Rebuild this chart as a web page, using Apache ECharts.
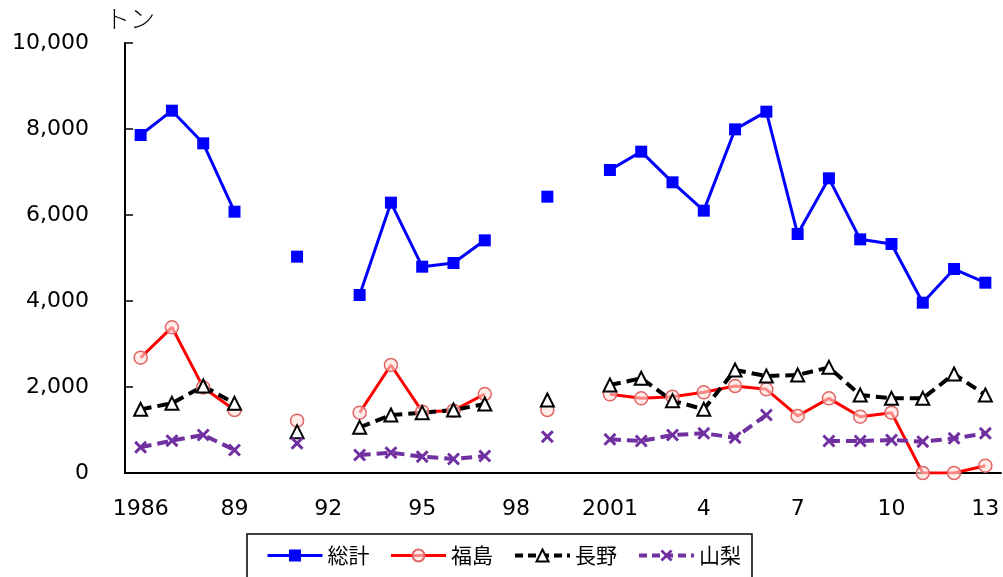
<!DOCTYPE html>
<html><head><meta charset="utf-8">
<script src="https://cdn.jsdelivr.net/npm/echarts@6/dist/echarts.min.js"></script>
<style>html,body{margin:0;padding:0;background:#fff}#c{width:1003px;height:577px}</style>
</head><body><div id="c"></div>
<script>
const years = [];
for (let y = 1986; y <= 2013; y++) years.push(String(y));
const tickLabels = {"1986":"1986","1989":"89","1992":"92","1995":"95","1998":"98","2001":"2001","2004":"4","2007":"7","2010":"10","2013":"13"};
const yTicks = [0, 2000, 4000, 6000, 8000, 10000];
// 1986..2013
const total = [7860,8426,7667,6077,null,5031,null,4140,6287,4798,4884,5411,null,6426,null,7047,7473,6760,6101,7992,8403,5558,6853,5434,5326,3961,4744,4426];
const fukushima = [2682,3388,1990,1465,null,1217,null,1403,2512,1426,1450,1837,null,1465,null,1830,1736,1775,1876,2023,1946,1326,1736,1310,1403,0,0,170];
const nagano = [1480,1620,2023,1620,null,961,null,1062,1349,1403,1465,1605,null,1698,null,2047,2202,1682,1481,2395,2256,2279,2457,1814,1736,1736,2302,1814];
const yamanashi = [597,752,884,535,null,690,null,419,473,380,326,395,null,845,null,783,744,884,922,822,1349,null,744,744,767,729,806,922];
const names = ['総計','福島','長野','山梨'];

const chart = echarts.init(document.getElementById('c'));
const xMark = 'path://M0,1.6L1.6,0L5,3.4L8.4,0L10,1.6L6.6,5L10,8.4L8.4,10L5,6.6L1.6,10L0,8.4L3.4,5Z';
const dash = [11, 6];
chart.setOption({
  animation: false,
  textStyle: {fontFamily: 'DejaVu Sans, "Noto Sans CJK JP"'},
  grid: {left: 125, right: 2, top: 43, bottom: 104},
  legend: {
    left: 247, top: 534,
    padding: [11, 11, 40, 19],
    borderColor: '#000', borderWidth: 1.5,
    itemWidth: 55, itemHeight: 15, itemGap: 20,
    textStyle: {fontFamily: '"Noto Sans CJK JP"', fontSize: 21, color: '#000'},
    data: [
      {name: names[0], lineStyle: {width: 3}},
      {name: names[1], lineStyle: {width: 3}},
      {name: names[2], lineStyle: {width: 4, type: [8, 5]}},
      {name: names[3], lineStyle: {width: 4, type: [8, 5]}}
    ]
  },
  graphic: [{type: 'text', left: 105, top: 6, style: {text: 'トン', font: '300 25px "Noto Sans CJK JP"', fill: '#000'}}],
  xAxis: {
    type: 'category', data: years, boundaryGap: true,
    axisLine: {lineStyle: {color: '#000', width: 2}},
    axisTick: {inside: true, length: 6, interval: 0, lineStyle: {color: '#000', width: 1.5}},
    axisLabel: {interval: 0, margin: 25, fontSize: 22, color: '#000',
      formatter: v => tickLabels[v] || ''}
  },
  yAxis: {
    type: 'value', min: yTicks[0], max: yTicks[yTicks.length-1], interval: 2000,
    axisLine: {show: true, lineStyle: {color: '#000', width: 2}},
    axisTick: {show: true, inside: true, length: 8, lineStyle: {color: '#000', width: 1.5}},
    splitLine: {show: false},
    axisLabel: {margin: 36, fontSize: 22, color: '#000',
      formatter: v => v.toLocaleString('en-US')}
  },
  series: [
    {name: names[0], type: 'line', data: total, connectNulls: false,
     symbol: 'rect', symbolSize: 12,
     lineStyle: {color: '#0000FF', width: 3},
     itemStyle: {color: '#0000FF'}},
    {name: names[1], type: 'line', data: fukushima, connectNulls: false,
     symbol: 'circle', symbolSize: 13,
     lineStyle: {color: '#FF0000', width: 3},
     itemStyle: {color: 'rgba(255,225,220,0.6)', borderColor: '#E06666', borderWidth: 1.5}},
    {name: names[2], type: 'line', data: nagano, connectNulls: false,
     symbol: 'triangle', symbolSize: 13,
     lineStyle: {color: '#000', width: 4, type: dash},
     itemStyle: {color: '#fff', borderColor: '#000', borderWidth: 2}},
    {name: names[3], type: 'line', data: yamanashi, connectNulls: false,
     symbol: xMark, symbolSize: 13,
     lineStyle: {color: '#7030A0', width: 4, type: dash},
     itemStyle: {color: '#7030A0'}}
  ]
});
</script></body></html>
